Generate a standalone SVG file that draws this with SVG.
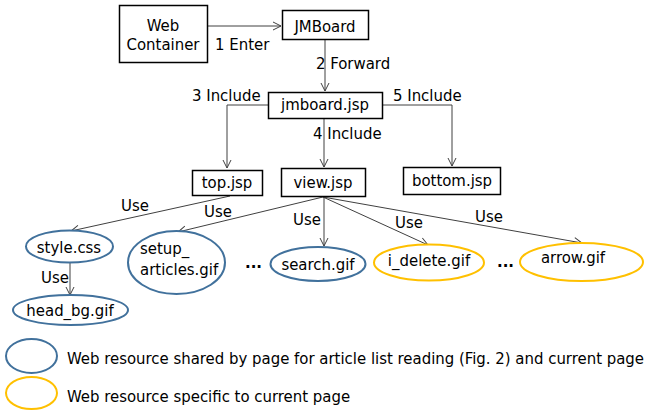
<svg xmlns="http://www.w3.org/2000/svg" width="652" height="410" viewBox="0 0 652 410">
<style>
text{font-family:"DejaVu Sans Condensed","DejaVu Sans",sans-serif;font-stretch:condensed;font-size:16.6px;fill:#000}
.c{text-anchor:middle}
.box{fill:#fff;stroke:#000;stroke-width:1.5}
.blue{fill:#fff;stroke:#41719C;stroke-width:2}
.yel{fill:#fff;stroke:#FFC000;stroke-width:2}
.e{fill:none;stroke:#404040;stroke-width:1;marker-end:url(#ah)}
.dots{font-weight:bold}
</style>
<defs>
<marker id="ah" markerWidth="12" markerHeight="12" refX="9" refY="5" orient="auto" markerUnits="userSpaceOnUse">
<path d="M1,1 L9,5 L1,9" fill="none" stroke="#404040" stroke-width="1"/>
</marker>
</defs>
<g id="connectors">
<line class="e" x1="208" y1="26" x2="281" y2="26"/>
<line class="e" x1="325" y1="39" x2="325" y2="91"/>
<polyline class="e" points="268,105 227,105 227,168"/>
<polyline class="e" points="382,105 452,105 452,166"/>
<line class="e" x1="324" y1="118" x2="324" y2="167"/>
<line class="e" x1="230" y1="196" x2="71" y2="231"/>
<line class="e" x1="323" y1="197" x2="178" y2="232"/>
<line class="e" x1="324" y1="197" x2="324" y2="246"/>
<line class="e" x1="323" y1="197" x2="428" y2="245"/>
<line class="e" x1="323" y1="197" x2="582" y2="243"/>
<line class="e" x1="70" y1="262" x2="70" y2="295"/>
<text x="215" y="50">1 Enter</text>
<text x="316" y="69">2 Forward</text>
<text x="192" y="101">3 Include</text>
<text x="393" y="101">5 Include</text>
<text x="313" y="139">4 Include</text>
<text x="121" y="211">Use</text>
<text x="204" y="217">Use</text>
<text x="293" y="225">Use</text>
<text x="395" y="228">Use</text>
<text x="475" y="222">Use</text>
<text x="41" y="283">Use</text>
</g>
<g id="web-container">
<rect class="box" x="119.5" y="5.5" width="88" height="57"/>
<text class="c" x="163" y="31">Web</text>
<text class="c" x="163" y="50">Container</text>
</g>
<g id="jmboard">
<rect class="box" x="282.5" y="10.5" width="86" height="29"/>
<text class="c" x="325" y="32">JMBoard</text>
</g>
<g id="jmboard-jsp">
<rect class="box" x="268.5" y="92.5" width="114" height="26"/>
<text class="c" x="325" y="110">jmboard.jsp</text>
</g>
<g id="top-jsp">
<rect class="box" x="192.5" y="170.5" width="70" height="25"/>
<text class="c" x="227" y="188">top.jsp</text>
</g>
<g id="view-jsp">
<rect class="box" x="281.5" y="168.5" width="84" height="28"/>
<text class="c" x="323" y="188">view.jsp</text>
</g>
<g id="bottom-jsp">
<rect class="box" x="403.5" y="167.5" width="97" height="27"/>
<text class="c" x="452" y="186">bottom.jsp</text>
</g>
<g id="style-css">
<ellipse class="blue" cx="69.5" cy="246.5" rx="43.5" ry="16"/>
<text class="c" x="69" y="253">style.css</text>
</g>
<g id="head-bg-gif">
<ellipse class="blue" cx="70.5" cy="310" rx="57.5" ry="15"/>
<text class="c" x="70" y="316">head_bg.gif</text>
</g>
<g id="setup-articles-gif">
<ellipse class="blue" cx="176.5" cy="262.5" rx="48.5" ry="31.5"/>
<text x="140" y="254">setup_</text>
<text x="140" y="275">articles.gif</text>
</g>
<g id="dots-1"><text class="dots" x="245" y="268">...</text></g>
<g id="search-gif">
<ellipse class="blue" cx="318" cy="264" rx="47.5" ry="17"/>
<text class="c" x="318" y="270">search.gif</text>
</g>
<g id="i-delete-gif">
<ellipse class="yel" cx="429" cy="262.5" rx="55" ry="18"/>
<text class="c" x="429" y="266">i_delete.gif</text>
</g>
<g id="dots-2"><text class="dots" x="497" y="267">...</text></g>
<g id="arrow-gif">
<ellipse class="yel" cx="581.5" cy="262" rx="61.5" ry="19"/>
<text class="c" x="573" y="263">arrow.gif</text>
</g>
<g id="legend">
<ellipse class="blue" cx="31.5" cy="356" rx="25.5" ry="17"/>
<text x="67" y="364">Web resource shared by page for article list reading (Fig. 2) and current page</text>
<ellipse class="yel" cx="31.5" cy="393" rx="25.5" ry="16"/>
<text x="67" y="402">Web resource specific to current page</text>
</g>
</svg>
